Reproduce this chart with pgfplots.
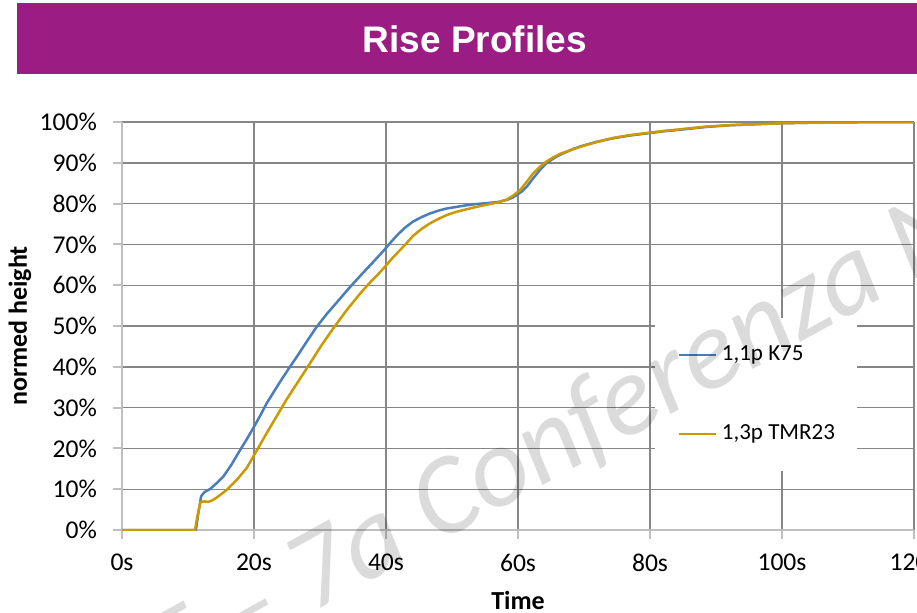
\documentclass[border=0pt]{standalone}
\usepackage{fontspec}
\setmainfont{Carlito}
\newfontfamily\arialfont{Liberation Sans}
\usepackage{pgfplots}
\pgfplotsset{compat=1.18}
\definecolor{kblue}{RGB}{74,126,187}
\definecolor{kgold}{RGB}{204,153,0}
\definecolor{banner}{RGB}{155,29,132}
\definecolor{gridc}{RGB}{134,134,134}
\definecolor{axc}{RGB}{191,191,191}
\begin{document}
\begin{tikzpicture}
\fill[banner] (17*0.5bp,-3*0.5bp) rectangle (917*0.5bp,-74*0.5bp);
\node[text=white, inner sep=0pt, font=\arialfont\bfseries\fontsize{18.5bp}{20bp}\selectfont] at (475*0.5bp,-39*0.5bp) {Rise Profiles};
\begin{axis}[
  at={(61bp,-265bp)}, anchor=south west, scale only axis,
  width=396bp, height=204bp,
  xmin=0, xmax=120, ymin=0, ymax=100,
  xtick={0,20,...,120}, ytick={0,10,...,100},
  grid=major, major grid style={gridc, line width=0.7bp},
  axis x line*=bottom, axis y line*=left,
  axis line style={axc, line width=1bp},
  tick align=outside, major tick style={axc, line width=1bp}, major tick length=4.5bp,
  xticklabel={\pgfmathprintnumber{\tick}s},
  yticklabel={\pgfmathprintnumber{\tick}\%},
  tick label style={font=\fontsize{12.8bp}{14bp}\selectfont, text=black},
  xticklabel style={yshift=-4bp},
  yticklabel style={xshift=-4.5bp},
  /pgf/number format/assume math mode=true,
  xlabel={Time}, ylabel={normed height},
  label style={font=\bfseries\fontsize{13bp}{15bp}\selectfont},
  xlabel style={at={(axis description cs:0.5,-0.1716)}, anchor=center},
  ylabel style={at={(axis description cs:-0.1288,0.5)}, anchor=center},
  legend style={at={(0.673,0.52)}, anchor=north west, draw=none, fill=white,
    inner xsep=11bp, inner ysep=13bp, row sep=28.5bp,
    font=\fontsize{11.5bp}{13bp}\selectfont,
    nodes={inner sep=0pt, text height=8bp, text depth=3bp},
    /tikz/every odd column/.append style={column sep=2.5bp}},
  legend cell align=left,
  legend image code/.code={\draw[#1, line width=1.25bp] (0cm,0cm) -- (18.5bp,0cm);},
  every axis plot/.append style={line join=round},
]
\addplot[kblue, line width=1.25bp] coordinates {
(0,0) (11.2,0) (11.6,4.5) (12.0,8.3) (12.5,9.3) (13.3,10) (14.3,11.4) (15.35,13.1)
(16.5,15.8) (17.9,19.6) (19,22.5) (20,25.3) (21,28.2) (21.9,31) (23.9,36.2) (25.2,39.4)
(26.5,42.5) (28,46.2) (29.5,49.8) (31,52.9) (32.5,55.7) (34.3,59.1) (36.1,62.3)
(37.9,65.4) (39.6,68.4) (40.6,70.3) (41.6,72.1) (42.8,74.0) (44.1,75.6) (45.4,76.7)
(46.7,77.6) (48,78.3) (49.2,78.8) (50.7,79.2) (52.2,79.6) (53.7,79.9) (55.2,80.1)
(57,80.4) (58.3,80.9) (59.1,81.4) (59.8,82.1) (60.6,83) (61.3,84.1) (62.3,86.2)
(63.3,88.2) (64.3,89.9) (65.4,91.1) (66.4,92) (67.4,92.7) (68.4,93.4) (69.4,94)
(71.8,95.1) (74.4,96) (77,96.7) (79.5,97.2) (82,97.7) (84.5,98.1) (88.6,98.8)
(92,99.2) (95,99.4) (100,99.7) (105,99.85) (110,99.93) (120,100)
};
\addlegendentry{1,1p K75}
\addplot[kgold, line width=1.25bp] coordinates {
(0,0) (11.06,0) (11.5,4) (11.9,6.9) (12.5,7.0) (13.1,6.9) (13.7,7.3) (14.3,7.9)
(15.85,9.8) (17.5,12.5) (18.9,15.2) (20,18.3) (21.9,23.7) (23.4,27.8) (24.9,31.9)
(26.7,36.4) (28.5,40.9) (30.2,45.2) (32,49.4) (34,53.8) (36.1,58) (37.6,60.7)
(39.1,63.2) (40.1,65) (41,66.7) (42,68.4) (43,70.1) (44.1,72.1) (45.4,73.8)
(46.7,75.2) (48,76.3) (49.2,77.2) (50.7,78) (52.2,78.6) (53.7,79.2) (55.2,79.7)
(57,80.3) (58.3,81) (59.3,82) (60.3,83.3) (61.3,85.3) (62.3,87.4) (63.3,89)
(64.3,90.3) (65.4,91.4) (66.4,92.2) (67.4,92.8) (68.7,93.5) (70,94.2) (72.2,95.2)
(74.4,96.1) (77,96.8) (79.5,97.3) (82,97.8) (84.5,98.2) (88.6,98.9) (92,99.2)
(95,99.4) (100,99.7) (105,99.85) (110,99.93) (120,100)
};
\addlegendentry{1,3p TMR23}
\end{axis}
\node[rotate=29, anchor=base west, inner sep=0pt, text=black, opacity=0.14,
  font=\itshape\fontsize{57bp}{60bp}\selectfont] at (436*0.5bp,-545*0.5bp) {Conferenza Nazionale};
\node[rotate=29, anchor=base east, inner sep=0pt, text=black, opacity=0.14,
  font=\itshape\fontsize{57bp}{60bp}\selectfont] at (436*0.5bp,-545*0.5bp) {SIF -- 7a\kern0.22em};
\pgfresetboundingbox
\useasboundingbox (0,0) rectangle (458.5bp,-306.5bp);
\end{tikzpicture}
\end{document}
